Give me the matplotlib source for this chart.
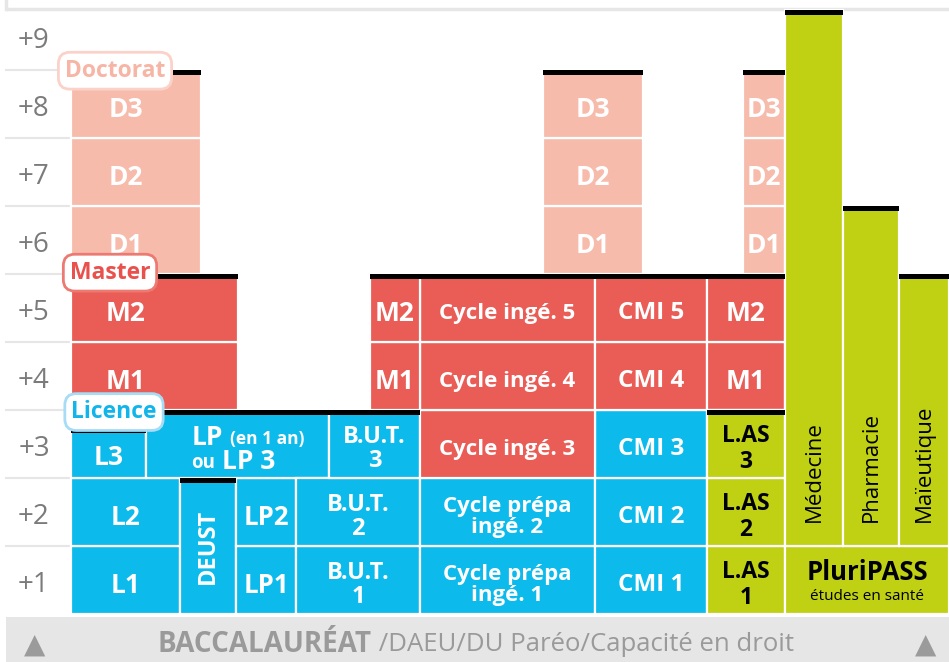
import matplotlib
matplotlib.use("Agg")
import matplotlib.pyplot as plt
from matplotlib.patches import Rectangle

plt.rcParams['font.family'] = ['Open Sans', 'DejaVu Sans']

# ---------------- data ----------------
levels = ["+1", "+2", "+3", "+4", "+5", "+6", "+7", "+8", "+9"]

# cells: label, x0, x1 (column edges, px units), level start, level end, family, cap on top
cell_labels = [
    "L1", "L2", "L3", "DEUST", "LP1", "LP2", "", "B.U.T.\n1", "B.U.T.\n2", "B.U.T.\n3",
    "Cycle prépa\ningé. 1", "Cycle prépa\ningé. 2", "CMI 1", "CMI 2", "CMI 3",
    "Cycle ingé. 3", "Cycle ingé. 4", "Cycle ingé. 5", "CMI 4", "CMI 5",
    "M1", "M2", "M1", "M2", "M1", "M2",
    "D1", "D2", "D3", "D1", "D2", "D3", "D1", "D2", "D3",
    "L.AS\n1", "L.AS\n2", "L.AS\n3", "", "Médecine", "Pharmacie", "Maïeutique",
]
cell_x0 = [71, 71, 71, 180, 236, 236, 146, 296, 296, 329,
           420, 420, 595, 595, 595,
           420, 420, 420, 595, 595,
           71, 71, 370, 370, 707, 707,
           71, 71, 71, 543, 543, 543, 743, 743, 743,
           707, 707, 707, 785, 785, 843, 899]
cell_x1 = [180, 180, 146, 236, 296, 296, 329, 420, 420, 420,
           595, 595, 707, 707, 707,
           595, 595, 595, 707, 707,
           238, 238, 420, 420, 785, 785,
           201, 201, 201, 643, 643, 643, 785, 785, 785,
           785, 785, 785, 949, 843, 899, 949]
cell_lo = [0, 1, 2, 0, 0, 1, 2, 0, 1, 2,
           0, 1, 0, 1, 2,
           2, 3, 4, 3, 4,
           3, 4, 3, 4, 3, 4,
           5, 6, 7, 5, 6, 7, 5, 6, 7,
           0, 1, 2, 0, 1, 1, 1]
cell_hi = [1, 2, 2.74, 2, 1, 2, 3, 1, 2, 3,
           1, 2, 1, 2, 3,
           3, 4, 5, 4, 5,
           4, 5, 4, 5, 4, 5,
           6, 7, 8, 6, 7, 8, 6, 7, 8,
           1, 2, 3, 1, 8.88, 6, 5]
cell_family = (["L"] * 15 + ["M"] * 11 + ["D"] * 9 + ["S"] * 7)
cell_cap = [False, False, True, True, False, False, True, False, False, True,
            False, False, False, False, False,
            False, False, True, False, True,
            False, True, False, True, False, True,
            False, False, True, False, False, True, False, False, True,
            False, False, True, False, True, True, True]

family_color = {"L": "#0dbaec", "M": "#ea5c56", "D": "#f7bbab", "S": "#c0d013"}
family_text = {"L": "white", "M": "white", "D": "white", "S": "black"}

badges = ["Doctorat", "Master", "Licence"]
badge_level = [7.99, 5.02, 2.97]
badge_x = [115, 110, 114]
badge_text_color = ["#f6b5a5", "#e9524c", "#12b5ea"]
badge_edge_color = ["#fbd2c8", "#ec7a72", "#a6dcf5"]

bottom_bold = "BACCALAURÉAT"
bottom_rest = " /DAEU/DU Paréo/Capacité en droit"

# ---------------- figure ----------------
fig = plt.figure(figsize=(9.49, 6.62), dpi=100)
ax = fig.add_axes([0, 0, 1, 1])
ax.set_xlim(0, 949)
ax.set_ylim(-0.706, 9.03)
ax.axis("off")

# top frame
ax.plot([6, 949], [8.897, 8.897], color="#e6e6e6", lw=2.5, zorder=1, solid_capstyle="butt")
ax.plot([6, 6], [8.897, 9.1], color="#e6e6e6", lw=2.5, zorder=1)

# grid lines in left margin and level labels
for i, lab in enumerate(levels):
    ax.text(34, i + 0.42, lab, ha="center", va="center", fontsize=20, color="#7b7b7b")
    if i >= 1:
        ax.plot([6, 71], [i, i], color="#e6e6e6", lw=1.5, zorder=1)

cap_h = 0.075
dy = 0.075
for lab, x0, x1, lo, hi, fam, cap in zip(cell_labels, cell_x0, cell_x1, cell_lo,
                                         cell_hi, cell_family, cell_cap):
    ax.add_patch(Rectangle((x0, lo), x1 - x0, hi - lo, facecolor=family_color[fam],
                           edgecolor="white", lw=1.6, zorder=2))
    if cap:
        ax.add_patch(Rectangle((x0, hi - cap_h), x1 - x0, cap_h, facecolor="black",
                               edgecolor="none", zorder=3))
    if not lab:
        continue
    cx = (x0 + x1) / 2
    cy = (lo + hi) / 2 - dy
    tc = family_text[fam]
    if lab in ("Médecine", "Pharmacie", "Maïeutique"):
        ax.text(cx, 1.35, lab, rotation=90, ha="center", va="bottom", fontsize=16,
                color="black", zorder=4)
        continue
    if lab == "DEUST":
        ax.text(cx, cy + dy, lab, rotation=90, ha="center", va="center", fontsize=17,
                fontweight="bold", color=tc, zorder=4)
        continue
    if x0 == 71 and fam in ("M", "D"):
        cx = 126
    fs = 19
    ls = 1.0
    if lab.startswith("Cycle"):
        fs = 16
    elif lab.startswith("CMI"):
        fs = 17.5
    elif lab.startswith("B.U.T"):
        fs = 17
    elif lab.startswith("L.AS"):
        fs = 16.5
        ls = 1.12
    elif lab.startswith("LP"):
        fs = 18.5
    ax.text(cx, cy, lab, ha="center", va="center", fontsize=fs, fontweight="bold",
            color=tc, zorder=4, linespacing=ls)

# LP (en 1 an) ou LP 3 cell
lp_cx = (146 + 329) / 2
ax.text(lp_cx - 14.5, 2.60, "LP", ha="right", va="center", fontsize=19, fontweight="bold",
        color="white", zorder=4)
ax.text(lp_cx - 7.5, 2.58, "(en 1 an)", ha="left", va="center", fontsize=12.5,
        fontweight="bold", color="white", zorder=4)
ax.text(lp_cx - 22.5, 2.22, "ou", ha="right", va="center", fontsize=13.5,
        fontweight="bold", color="white", zorder=4)
ax.text(lp_cx - 15.5, 2.24, "LP 3", ha="left", va="center", fontsize=19, fontweight="bold",
        color="white", zorder=4)

# PluriPASS cell
ax.text(867, 0.61, "PluriPASS", ha="center", va="center", fontsize=18.5, fontweight="bold",
        color="black", zorder=4)
ax.text(867, 0.26, "études en santé", ha="center", va="center", fontsize=11,
        color="black", zorder=4)

# badges
for b, lv, bx, tcol, ecol in zip(badges, badge_level, badge_x, badge_text_color,
                                 badge_edge_color):
    ax.text(bx, lv, b, ha="center", va="center", fontsize=16.5, fontweight="bold",
            color=tcol, zorder=6,
            bbox=dict(boxstyle="round,pad=0.28,rounding_size=0.5", facecolor="white",
                      edgecolor=ecol, lw=2))

# bottom bar
ax.add_patch(Rectangle((6, -0.706), 943, 0.66, facecolor="#e6e6e6", edgecolor="none",
                       zorder=1))
ax.text(35, -0.45, "▲", ha="center", va="center", fontsize=20, color="#9b9b9b",
        family="DejaVu Sans")
ax.text(926, -0.45, "▲", ha="center", va="center", fontsize=20, color="#9b9b9b",
        family="DejaVu Sans")
t1 = ax.text(158, -0.45, bottom_bold, ha="left", va="center", fontsize=20,
             fontweight="bold", color="#9a9a9a")
ax.annotate(bottom_rest, xy=(1, 0.5), xycoords=t1, ha="left", va="center",
            fontsize=18.5, color="#9a9a9a")

fig.savefig("out.png", dpi=100)
